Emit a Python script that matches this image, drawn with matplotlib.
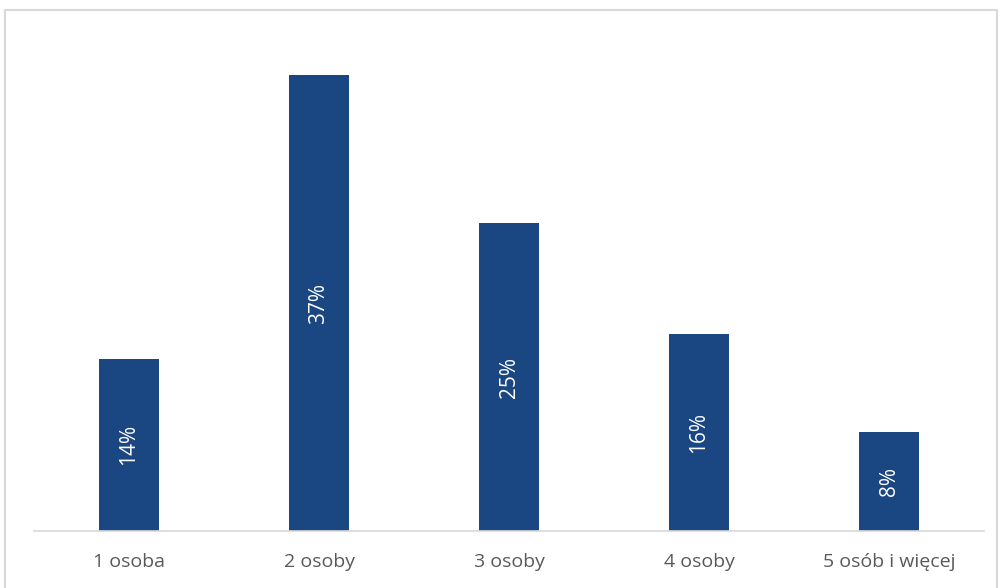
import matplotlib.pyplot as plt
import numpy as np
from matplotlib.patches import Rectangle

categories = ["1 osoba", "2 osoby", "3 osoby", "4 osoby", "5 osób i więcej"]
shares = [14, 37, 25, 16, 8]

BAR_COLOR = "#1a4682"
TEXT_COLOR = "#595959"

plt.rcParams["font.family"] = ["Open Sans", "DejaVu Sans"]

fig = plt.figure(figsize=(10, 5.88), dpi=100)
ax = fig.add_axes([0.034, 0.0969, 0.95, 0.838])

x = np.arange(len(categories))
bars = ax.bar(x, shares, width=0.315, color=BAR_COLOR)
for bar, val in zip(bars, shares):
    ax.text(bar.get_x() + bar.get_width() / 2, val / 2, f"{val}%",
            rotation=90, ha="center", va="center", color="white", fontsize=15)

ax.set_xlim(-0.5, len(categories) - 0.5)
ax.set_ylim(0, 40)
ax.set_xticks(x)
ax.set_xticklabels(categories, fontsize=14, color=TEXT_COLOR)
ax.tick_params(axis="x", length=0, pad=16)
ax.set_yticks([])
for side in ("top", "right", "left"):
    ax.spines[side].set_visible(False)
ax.spines["bottom"].set_color("#d9d9d9")
ax.spines["bottom"].set_linewidth(1.2)

# light grey frame around the chart area
fig.patches.append(Rectangle((0.005, -0.05), 0.992, 1.033, transform=fig.transFigure,
                             fill=False, edgecolor="#d9d9d9", linewidth=1.5))

fig.savefig("out.png", dpi=100)
